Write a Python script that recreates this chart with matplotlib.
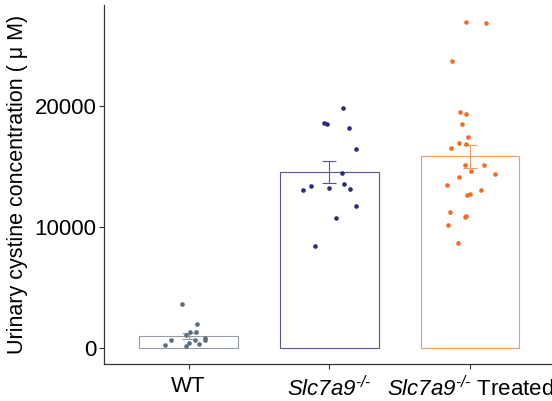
import numpy as np
import matplotlib
matplotlib.use("Agg")
import matplotlib.pyplot as plt

plt.rcParams['font.family'] = ['Liberation Sans', 'DejaVu Sans']
# only the gene names use mathtext, so the whole math font can be italic
plt.rcParams['mathtext.fontset'] = 'custom'
plt.rcParams['mathtext.rm'] = 'Liberation Sans:italic'
plt.rcParams['mathtext.it'] = 'Liberation Sans:italic'

# groups and labels
groups = ['WT', 'Slc7a9', 'Treated']
tick_labels = ['WT', r'$\mathit{Slc7a9}^{\text{-/-}}$', r'$\mathit{Slc7a9}^{\text{-/-}}$ Treated']

wt_vals = [3610, 1960, 1320, 1320, 1100, 850, 690, 630, 630, 390, 330, 250, 140]
wt_jit = [-0.046, 0.059, 0.007, 0.054, -0.021, 0.118, 0.114, -0.128, 0.047, 0.002, 0.075, -0.169, -0.021]

ko_vals = [19830, 18650, 18570, 18200, 16500, 14520, 13550, 13440, 13110, 13250,
           13200, 11740, 10740, 8430]
ko_jit = [0.100, -0.036, -0.016, 0.137, 0.187, 0.090, 0.107, -0.133, -0.185, 0.0,
          0.149, 0.192, 0.048, -0.105]

tr_vals = [27000, 26860, 23720, 19530, 19390, 18510, 17440, 16940, 16880, 16530,
           15180, 15120, 14680, 14430, 14190, 13500, 13110, 12760, 12680, 11250,
           10910, 10850, 10220, 8730]
tr_jit = [-0.028, 0.114, -0.126, -0.071, -0.031, -0.059, -0.016, -0.080, -0.026, -0.135,
          -0.038, 0.102, 0.009, 0.178, -0.080, -0.164, 0.076, 0.0, -0.021, -0.142,
          -0.026, -0.036, -0.156, -0.085]

point_colors = ['#5b6c7b', '#2a2c78', '#f26b21']
edge_colors = ['#929daa', '#55569a', '#f59a5e']

data = [wt_vals, ko_vals, tr_vals]
jitter = [wt_jit, ko_jit, tr_jit]

fig = plt.figure(figsize=(5.52, 4.01), dpi=100)
ax = fig.add_axes([104.3 / 552, 1 - 364 / 401, (554.4 - 104.3) / 552, (364 - 5) / 401])

for i, (vals, jit) in enumerate(zip(data, jitter)):
    x = i + 1
    vals = np.array(vals, dtype=float)
    mean = vals.mean()
    sem = vals.std(ddof=1) / np.sqrt(len(vals))
    ax.bar(x, mean, width=0.7, facecolor='white', edgecolor=edge_colors[i], linewidth=0.8, zorder=1)
    ax.errorbar(x, mean, yerr=sem, color=edge_colors[i], capsize=5, elinewidth=0.8,
                capthick=0.8, zorder=2)
    ax.scatter(x + np.array(jit), vals, s=11, color=point_colors[i], linewidths=0, zorder=3)

ax.set_xlim(0.4, 3.6)
ax.set_ylim(-1325, 28390)
ax.set_xticks([1, 2, 3])
ax.set_xticklabels(tick_labels, fontsize=16)
ax.set_yticks([0, 10000, 20000])
ax.tick_params(axis='both', labelsize=16, length=3.5, width=0.8, color='#333333', pad=2)
ax.tick_params(axis='x', pad=5)
ax.set_ylabel('Urinary cystine concentration ( \u03bc M)', fontsize=15.5, labelpad=5)

for s in ['top', 'right']:
    ax.spines[s].set_visible(False)
for s in ['left', 'bottom']:
    ax.spines[s].set_color('#333333')
    ax.spines[s].set_linewidth(0.9)

fig.savefig('out.png', dpi=100)
